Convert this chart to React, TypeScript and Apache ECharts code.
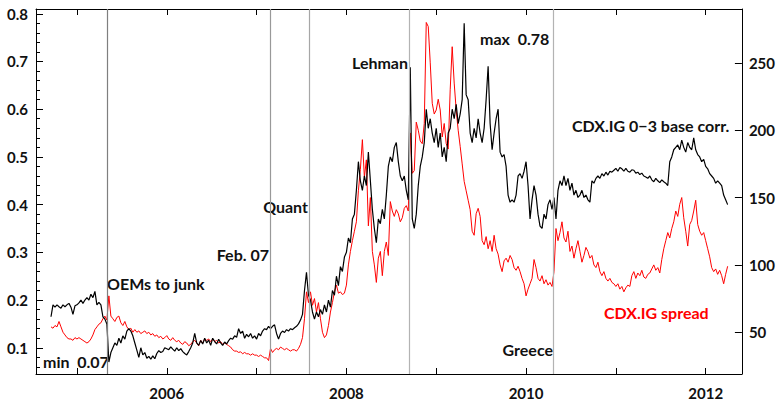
import { useEffect, useRef } from "react";
import * as echarts from "echarts";

// Time grid of the sampled series (fractional years, ~8-day sampling)
const START_YEAR = 2004.711;
const STEP_YEARS = 1 / 45;

// CDX.IG 0-3 base correlation (left axis)
const baseCorr = [
  0.165, 0.19, 0.185, 0.19, 0.186, 0.183, 0.19, 0.186, 0.19, 0.193,
  0.185, 0.17, 0.188, 0.19, 0.194, 0.2, 0.193, 0.2, 0.205, 0.2,
  0.212, 0.205, 0.218, 0.19, 0.195, 0.19, 0.165, 0.16, 0.15, 0.07,
  0.09, 0.1, 0.11, 0.105, 0.12, 0.11, 0.125, 0.118, 0.135, 0.14,
  0.135, 0.125, 0.11, 0.095, 0.08, 0.1, 0.085, 0.09, 0.078, 0.082,
  0.076, 0.083, 0.077, 0.088, 0.094, 0.09, 0.092, 0.1, 0.098, 0.096,
  0.102, 0.097, 0.093, 0.1, 0.094, 0.098, 0.092, 0.088, 0.085, 0.092,
  0.1, 0.11, 0.13, 0.11, 0.105, 0.115, 0.108, 0.12, 0.11, 0.116,
  0.105, 0.12, 0.113, 0.108, 0.118, 0.11, 0.105, 0.112, 0.108, 0.115,
  0.12, 0.118, 0.125, 0.122, 0.14, 0.13, 0.135, 0.12, 0.128, 0.123,
  0.13, 0.12, 0.125, 0.118, 0.13, 0.125, 0.135, 0.14, 0.138, 0.145,
  0.14, 0.145, 0.148, 0.13, 0.118, 0.13, 0.135, 0.132, 0.138, 0.135,
  0.14, 0.138, 0.142, 0.145, 0.15, 0.158, 0.17, 0.22, 0.258, 0.21,
  0.2, 0.175, 0.16, 0.175, 0.165, 0.18, 0.17, 0.19, 0.175, 0.2,
  0.185, 0.22, 0.21, 0.25, 0.23, 0.27, 0.26, 0.29, 0.3, 0.33,
  0.32, 0.37, 0.38, 0.43, 0.49, 0.45, 0.43, 0.46, 0.44, 0.51,
  0.45, 0.39, 0.35, 0.32, 0.37, 0.36, 0.39, 0.37, 0.42, 0.48,
  0.5, 0.49, 0.52, 0.53, 0.49, 0.46, 0.45, 0.46, 0.43, 0.41,
  0.688, 0.37, 0.35, 0.38, 0.44, 0.48, 0.5, 0.53, 0.6, 0.56,
  0.58, 0.55, 0.53, 0.56, 0.52, 0.55, 0.5, 0.52, 0.49, 0.55,
  0.56, 0.6, 0.58, 0.61, 0.57, 0.59, 0.62, 0.78, 0.63, 0.62,
  0.55, 0.53, 0.56, 0.54, 0.58, 0.55, 0.53, 0.56, 0.62, 0.69,
  0.57, 0.515, 0.55, 0.58, 0.6, 0.51, 0.5, 0.505, 0.48, 0.42,
  0.405, 0.41, 0.405, 0.42, 0.46, 0.465, 0.455, 0.47, 0.49, 0.44,
  0.37, 0.41, 0.44, 0.42, 0.38, 0.355, 0.35, 0.38, 0.37, 0.4,
  0.41, 0.39, 0.415, 0.37, 0.43, 0.45, 0.44, 0.46, 0.44, 0.455,
  0.43, 0.445, 0.42, 0.43, 0.415, 0.42, 0.43, 0.415, 0.42, 0.41,
  0.405, 0.45, 0.445, 0.455, 0.46, 0.455, 0.465, 0.46, 0.468, 0.462,
  0.47, 0.468, 0.472, 0.476, 0.47, 0.478, 0.475, 0.47, 0.476, 0.47,
  0.468, 0.473, 0.472, 0.466, 0.468, 0.463, 0.466, 0.46, 0.458, 0.455,
  0.46, 0.452, 0.448, 0.455, 0.45, 0.446, 0.452, 0.448, 0.445, 0.44,
  0.49, 0.5, 0.515, 0.52, 0.525, 0.515, 0.535, 0.52, 0.51, 0.53,
  0.52, 0.515, 0.54, 0.515, 0.505, 0.5, 0.49, 0.495, 0.48, 0.475,
  0.465, 0.46, 0.455, 0.445, 0.45, 0.445, 0.44, 0.42, 0.41, 0.4,
];

// CDX.IG spread in bp (right axis)
const spread = [
  54, 53, 55, 54, 58, 54, 50, 48, 46, 45,
  45, 44, 46, 45, 46, 45, 44, 43, 42, 43,
  45, 48, 52, 54, 56, 57, 60, 62, 59, 77,
  62, 60, 58, 61, 62, 57, 55, 58, 54, 52,
  53, 50, 52, 50, 51, 49, 50, 51, 49, 50,
  48, 49, 47, 48, 46, 47, 45, 46, 47.5, 45,
  44, 46, 44, 43, 44, 42, 41, 43, 42, 40,
  41, 43, 44, 42, 40, 44, 42, 45, 44, 45,
  43, 45, 43, 44, 42, 43, 41, 42, 41, 40,
  39, 37, 36, 36, 35, 35.5, 34, 35, 34, 34,
  33, 34, 33, 33, 32, 33, 32, 31, 31, 29,
  38, 35, 37, 38, 37, 39, 38, 37, 38, 37,
  36, 37, 37, 36, 38, 41, 46, 60, 80, 72,
  80, 70, 75, 65, 72, 60, 50, 46, 48, 55,
  65, 72, 80, 85, 79, 80, 78, 79, 85, 100,
  110, 118, 125, 132, 155, 171, 193, 165, 178, 129,
  150, 110, 100, 87, 105, 110, 92, 110, 117, 107,
  147, 140, 136, 141, 138, 132, 135, 142, 144, 140,
  198, 168, 170, 206, 200, 192, 190, 205, 280, 277,
  250, 220, 212, 215, 223, 215, 195, 205, 190, 186,
  230, 262, 235, 215, 200, 188, 175, 162, 155, 148,
  141, 125, 122, 138, 142, 136, 118, 115, 121, 112,
  118, 110, 122, 112, 108, 100, 95, 103, 105, 102,
  107, 104, 98, 96, 99, 95, 90, 86, 77, 82,
  86, 90, 104, 98, 90, 88, 92, 86, 89, 85,
  87, 84, 95, 127, 118, 124, 132, 120, 117, 125,
  110, 114, 105, 112, 118, 110, 102, 107, 113, 110,
  105, 107, 100, 98, 102, 95, 92, 95, 90, 88,
  90, 87, 86, 84, 86, 82, 84, 80, 83, 85,
  84, 92, 95, 90, 94, 92, 96, 91, 90, 93,
  94, 97, 100, 96, 98, 94, 104, 112, 118, 124,
  120, 127, 132, 140, 136, 145, 150, 135, 125, 114,
  130, 133, 140, 148, 130, 125, 122, 124, 118, 112,
  106, 98, 95, 97, 93, 96, 92, 86, 93, 99,
];

const yearTicks = [2005, 2006, 2007, 2008, 2009, 2010, 2011, 2012];
const yearLabels = [2006, 2008, 2010, 2012];
const corrTicks = [0.1, 0.2, 0.3, 0.4, 0.5, 0.6, 0.7, 0.8];
const corrMinorTicks = [
  0.06, 0.08, 0.12, 0.14, 0.16, 0.18, 0.22, 0.24, 0.26, 0.28, 0.32, 0.34,
  0.36, 0.38, 0.42, 0.44, 0.46, 0.48, 0.52, 0.54, 0.56, 0.58, 0.62, 0.64,
  0.66, 0.68, 0.72, 0.74, 0.76, 0.78,
];
const spreadTicks = [50, 100, 150, 200, 250];

// Event dates (fractional years)
const eventNames = ["OEMs to junk", "Feb. 07", "Quant", "Lehman", "Greece"];
const eventYears = [2005.337, 2007.152, 2007.589, 2008.704, 2010.296];

const X_MIN = 2004.544;
const X_MAX = 2012.403;
const CORR_MIN = 0.045;
const CORR_MAX = 0.81;
const SPREAD_MIN = 19;
const SPREAD_MAX = 290;

const eventLineColors = ["#7f7f7f", "#999999", "#a6a6a6", "#b3b3b3", "#b3b3b3"];

export default function App() {
  const ref = useRef<HTMLDivElement>(null);

  useEffect(() => {
    if (!ref.current) return;
    const chart = echarts.init(ref.current, null, { renderer: "svg" });
    const toPairs = (vals: number[]) =>
      vals.map((v, i) => [+(START_YEAR + i * STEP_YEARS).toFixed(4), v]);

    const FONT = "Lato";
    const INK = "#111111";
    const labelStyle = {
      color: INK,
      fontSize: 15,
      fontWeight: "bold" as const,
      fontFamily: FONT,
    };
    const axisLine = { show: true, lineStyle: { color: "#000", width: 1 } };

    const annotation = (
      text: string,
      x: number,
      y: number,
      align: "left" | "right",
      fill = INK
    ) => ({
      type: "text",
      x,
      y,
      silent: true,
      style: {
        text,
        fill,
        fontSize: 16,
        fontWeight: "bold",
        fontFamily: FONT,
        align,
        verticalAlign: "middle",
      },
    });

    chart.setOption({
      animation: false,
      backgroundColor: "#ffffff",
      grid: { left: 36, right: 35, top: 9, bottom: 25, containLabel: false },
      xAxis: [
        {
          type: "value",
          min: X_MIN,
          max: X_MAX,
          position: "bottom",
          axisLine,
          axisTick: {
            inside: true,
            length: 6,
            customValues: yearTicks,
            lineStyle: { color: "#000" },
          },
          axisLabel: {
            customValues: yearLabels,
            formatter: (v: number) => String(Math.round(v)),
            margin: 11,
            ...labelStyle,
          },
          splitLine: { show: false },
        },
        {
          type: "value",
          min: X_MIN,
          max: X_MAX,
          position: "top",
          axisLine,
          axisTick: {
            inside: true,
            length: 6,
            customValues: yearTicks,
            lineStyle: { color: "#000" },
          },
          axisLabel: { show: false },
          splitLine: { show: false },
        },
      ],
      yAxis: [
        {
          type: "value",
          min: CORR_MIN,
          max: CORR_MAX,
          position: "left",
          axisLine,
          axisTick: {
            inside: true,
            length: 7,
            customValues: corrTicks,
            lineStyle: { color: "#000" },
          },
          axisLabel: {
            customValues: corrTicks,
            formatter: (v: number) => v.toFixed(1),
            margin: 8,
            ...labelStyle,
          },
          splitLine: { show: false },
        },
        {
          type: "value",
          min: SPREAD_MIN,
          max: SPREAD_MAX,
          position: "right",
          axisLine,
          axisTick: {
            inside: true,
            length: 7,
            customValues: spreadTicks,
            lineStyle: { color: "#000" },
          },
          axisLabel: {
            customValues: spreadTicks,
            formatter: (v: number) => String(Math.round(v)),
            margin: 7,
            ...labelStyle,
          },
          splitLine: { show: false },
        },
        {
          type: "value",
          min: CORR_MIN,
          max: CORR_MAX,
          position: "left",
          axisLine: { show: false },
          axisTick: {
            inside: true,
            length: 4,
            customValues: corrMinorTicks,
            lineStyle: { color: "#000" },
          },
          axisLabel: { show: false },
          splitLine: { show: false },
        },
      ],
      series: [
        {
          name: "CDX.IG spread",
          type: "line",
          xAxisIndex: 0,
          yAxisIndex: 1,
          data: toPairs(spread),
          showSymbol: false,
          symbol: "none",
          lineStyle: { color: "#ff0000", width: 1 },
          z: 2,
          markLine: {
            silent: true,
            symbol: ["none", "none"],
            label: { show: false },
            data: eventYears.map((yr, i) => ({
              name: eventNames[i],
              xAxis: yr,
              lineStyle: { color: eventLineColors[i], width: 1.2, type: "solid" },
            })),
          },
        },
        {
          name: "CDX.IG 0-3 base corr.",
          type: "line",
          xAxisIndex: 0,
          yAxisIndex: 0,
          data: toPairs(baseCorr),
          showSymbol: false,
          symbol: "none",
          lineStyle: { color: "#000000", width: 1.2 },
          z: 3,
        },
      ],
      graphic: [
        annotation("min  0.07", 43, 361, "left"),
        annotation(eventNames[0], 107, 283, "left"),
        annotation(eventNames[1], 269, 254, "right"),
        annotation(eventNames[2], 308, 206, "right"),
        annotation(eventNames[3], 408, 62, "right"),
        annotation("max  0.78", 480, 38, "left"),
        annotation("CDX.IG 0\u22123 base corr.", 572, 125, "left"),
        annotation("CDX.IG spread", 604, 312, "left", "#ff0000"),
        annotation(eventNames[4], 553, 349, "right"),
      ],
    });

    return () => chart.dispose();
  }, []);

  return (
    <div
      ref={ref}
      style={{ position: "absolute", left: 0, top: 0, width: 778, height: 400 }}
    />
  );
}
